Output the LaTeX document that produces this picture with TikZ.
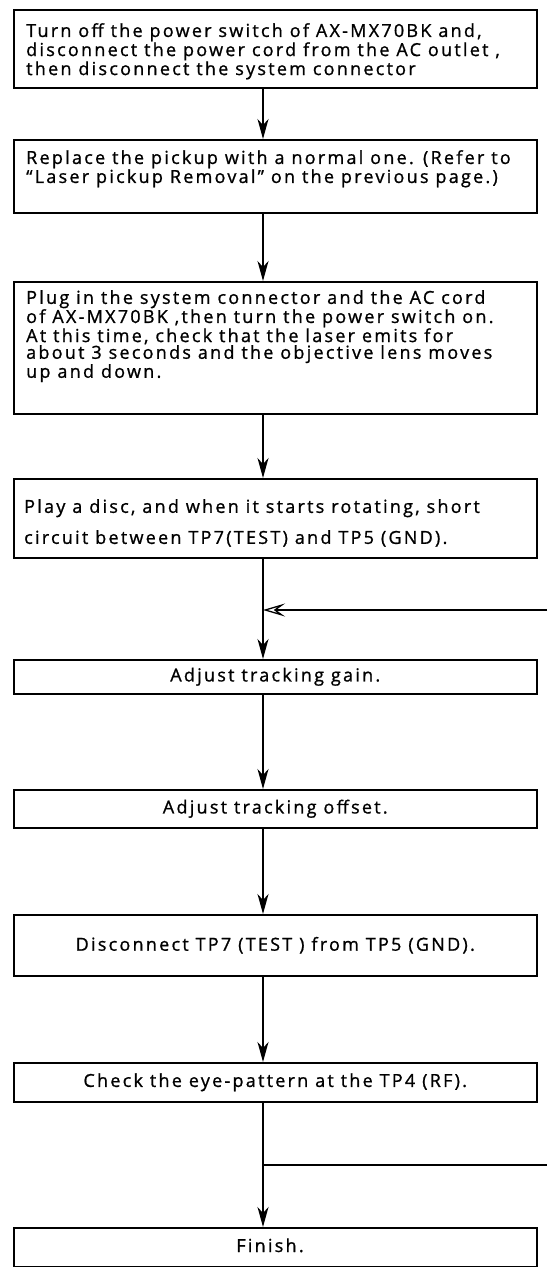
\documentclass[tikz,border=0pt]{standalone}
\usepackage{fontspec}
\setmainfont{Open Sans}[LetterSpace=12.5,FakeBold=1]
\usetikzlibrary{arrows.meta,positioning}

\tikzset{
  stepbox/.style={draw, line width=1.5pt, rectangle, anchor=north west,
    minimum width=523pt, inner sep=0pt},
  steptext/.style={anchor=north west, align=left, inner sep=0pt},
  flow/.style={line width=1.5pt, -{Stealth[length=20pt,width=11pt,inset=6pt]}},
  backflow/.style={line width=1.3pt, -{Stealth[open,length=22pt,width=13pt,inset=9pt]}},
}
\newcommand{\tightfont}{\fontsize{18}{12.3}\selectfont}
\newcommand{\plainfont}{\fontsize{18}{16.7}\selectfont}
\newcommand{\widefont}{\fontsize{18}{31}\selectfont}

\begin{document}
\begin{tikzpicture}[x=1pt,y=-1pt]
        \useasboundingbox (0,0) rectangle (547,1267);

        % 1. The boxes of the steps
        \node[stepbox, minimum height=78pt]  (b1) at (13,9) {};
        \node[stepbox, minimum height=73pt]  (b2) at (13,139) {};
        \node[stepbox, minimum height=132pt] (b3) at (13,281) {};
        \node[stepbox, minimum height=79pt]  (b4) at (13,478) {};
        \node[stepbox, minimum height=34pt, font=\plainfont]  (b5) at (13,659) {Adjust tracking gain.};
        \node[stepbox, minimum height=38pt, font=\plainfont]  (b6) at (13,789) {Adjust tracking offset.};
        \node[stepbox, minimum height=61pt, font=\plainfont]  (b7) at (13,914) {Disconnect TP7 (TEST ) from TP5 (GND).};
        \node[stepbox, minimum height=39pt, font=\plainfont]  (b8) at (13,1062) {Check the eye-pattern at the TP4 (RF).};
        \node[stepbox, minimum height=39pt]  (b9) at (13,1227) {};

        % 2. Texts that sit at the top of their box
        \node[steptext, font=\tightfont] (t1) at (26,23)
            {Turn off the power switch of AX-MX70BK and,\\
             disconnect the power cord from the AC outlet ,\\
             then disconnect the system connector};
        \node[steptext, font=\tightfont] (t2) at (26,150)
            {Replace the pickup with a normal one. (Refer to\\
             “Laser pickup Removal” on the previous page.)};
        \node[steptext, font=\plainfont] (t3) at (26,290)
            {Plug in the system connector and the AC cord\\
             of AX-MX70BK ,then turn the power switch on.\\
             At this time, check that the laser emits for\\
             about 3 seconds and the objective lens moves\\
             up and down.};
        \node[steptext, font=\widefont] (t4) at (24,499)
            {Play a disc, and when it starts rotating, short\\
             circuit between TP7(TEST) and TP5 (GND).};
        \node[anchor=base, inner sep=0pt, font=\plainfont] (t9) at (270,1252) {Finish.};

        % 3. Arrows down the spine
        \coordinate (spine) at (263,0);
        \foreach \a/\b in {b1/b2, b2/b3, b3/b4, b4/b5, b5/b6, b6/b7, b7/b8, b8/b9}
            \draw[flow] (\a.south -| spine) -- (\b.north -| spine);

        % 4. The loop back from the eye-pattern check
        \coordinate (loopin) at (547,610);
        \coordinate (loopout) at (547,1165);
        \draw[backflow] (loopin) -- (loopin -| spine);
        \draw[line width=1.3pt] (loopout -| spine) -- (loopout);

    \end{tikzpicture}
\end{document}
